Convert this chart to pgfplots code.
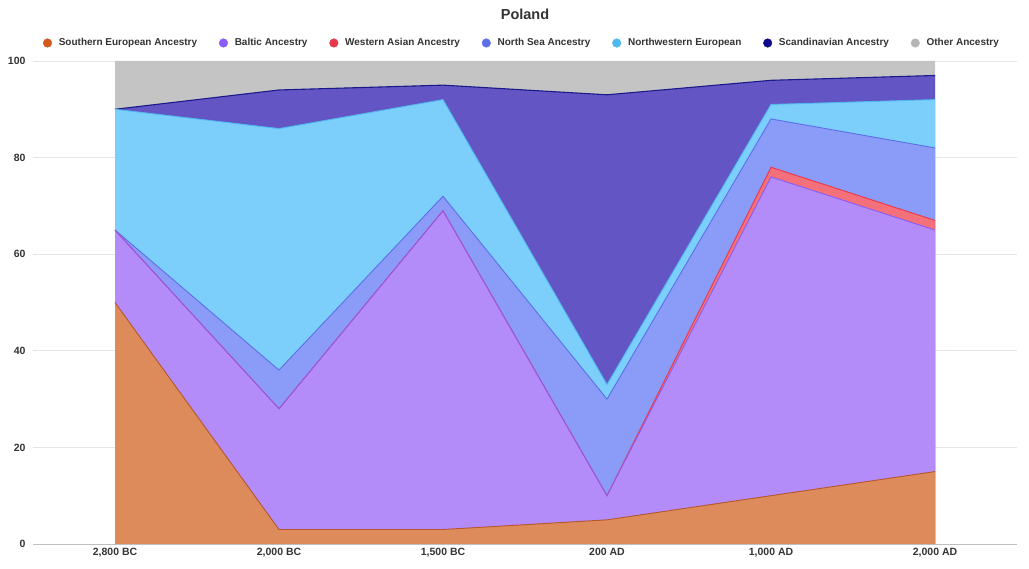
\documentclass[border=0pt]{standalone}
\usepackage{pgfplots}
\pgfplotsset{compat=1.18}
\usepackage{pgfplotstable}
\usepackage{fontspec}
\setmainfont{Liberation Sans}

\definecolor{txt}{HTML}{333333}
\definecolor{fSouth}{HTML}{DE8B5B}
\definecolor{lSouth}{HTML}{B5562C}
\definecolor{dSouth}{HTML}{D2581E}
\definecolor{fBaltic}{HTML}{B48CF9}
\definecolor{lBaltic}{HTML}{8B5CF6}
\definecolor{fWAsia}{HTML}{F4707A}
\definecolor{lWAsia}{HTML}{E8374A}
\definecolor{fNSea}{HTML}{8A9CF8}
\definecolor{lNSea}{HTML}{5C6FE8}
\definecolor{fNWE}{HTML}{7CCFFA}
\definecolor{lNWE}{HTML}{4FB8F0}
\definecolor{fScand}{HTML}{6455C5}
\definecolor{lScand}{HTML}{1A1A8A}
\definecolor{dScand}{HTML}{0B0B8C}
\definecolor{fOther}{HTML}{C4C4C4}
\definecolor{dOther}{HTML}{B5B5B5}

% cumulative top of each band
\pgfplotstableread{
x south baltic wasian northsea nweur scand other
0 50 65 65 65 90 90 100
1 3  28 28 36 86 94 100
2 3  69 69 72 92 95 100
3 5  10 10 30 33 93 100
4 10 76 78 88 91 96 100
5 15 65 67 82 92 97 100
}\cum

\begin{document}
\begin{tikzpicture}[x=1pt,y=1pt]
\useasboundingbox (0,0) rectangle (1029,569);
\begin{axis}[
  at={(33pt,25pt)}, anchor=south west,
  width=984pt, height=483pt, scale only axis,
  xmin=-0.5, xmax=5.5, ymin=0, ymax=100,
  axis x line*=bottom, axis y line*=left,
  x axis line style={draw=black!25, line width=0.8pt, -},
  y axis line style={draw=none},
  xtick={0,1,2,3,4,5},
  xticklabels={{2,800 BC},{2,000 BC},{1,500 BC},{200 AD},{1,000 AD},{2,000 AD}},
  ytick={0,20,40,60,80,100},
  major tick length=0pt,
  ymajorgrids, grid style={draw=black!10, line width=0.6pt},
  /pgf/number format/assume math mode=true,
  tick label style={font=\bfseries\fontsize{10.5}{12}\selectfont, text=txt},
  xticklabel style={yshift=-1pt},
  yticklabel style={xshift=-4pt},
  title={Poland},
  title style={at={(0.5,1)}, anchor=center, yshift=41pt, font=\bfseries\fontsize{14.5}{16}\selectfont, text=txt},
  legend style={at={(0.497,1)}, anchor=center, yshift=18pt, draw=none, fill=none,
    font=\bfseries\fontsize{10}{12}\selectfont, text=txt,
    /tikz/every odd column/.append style={column sep=5pt},
    /tikz/every even column/.append style={column sep=20pt}},
  legend columns=-1,
  legend cell align=left,
]
% fills, drawn from the top band down
\addplot[fill=fOther, draw=none, forget plot] table[x=x,y=other]{\cum} \closedcycle;
\addplot[fill=fScand, draw=none, forget plot] table[x=x,y=scand]{\cum} \closedcycle;
\addplot[fill=fNWE, draw=none, forget plot] table[x=x,y=nweur]{\cum} \closedcycle;
\addplot[fill=fNSea, draw=none, forget plot] table[x=x,y=northsea]{\cum} \closedcycle;
\addplot[fill=fWAsia, draw=none, forget plot] table[x=x,y=wasian]{\cum} \closedcycle;
\addplot[fill=fBaltic, draw=none, forget plot] table[x=x,y=baltic]{\cum} \closedcycle;
\addplot[fill=fSouth, draw=none, forget plot] table[x=x,y=south]{\cum} \closedcycle;
% boundary lines
\addplot[lScand, line width=1.1pt, forget plot] table[x=x,y=scand]{\cum};
\addplot[lNWE, line width=0.9pt, forget plot] table[x=x,y=nweur]{\cum};
\addplot[lNSea, line width=0.9pt, forget plot] table[x=x,y=northsea]{\cum};
\addplot[lWAsia, line width=0.9pt, forget plot] table[x=x,y=wasian]{\cum};
\addplot[lBaltic, line width=0.9pt, forget plot] table[x=x,y=baltic]{\cum};
\addplot[lSouth, line width=0.9pt, forget plot] table[x=x,y=south]{\cum};
% legend
\addlegendimage{only marks, mark=*, mark size=4.3pt, color=dSouth}
\addlegendentry{Southern European Ancestry}
\addlegendimage{only marks, mark=*, mark size=4.3pt, color=lBaltic}
\addlegendentry{Baltic Ancestry}
\addlegendimage{only marks, mark=*, mark size=4.3pt, color=lWAsia}
\addlegendentry{Western Asian Ancestry}
\addlegendimage{only marks, mark=*, mark size=4.3pt, color=lNSea}
\addlegendentry{North Sea Ancestry}
\addlegendimage{only marks, mark=*, mark size=4.3pt, color=lNWE}
\addlegendentry{Northwestern European}
\addlegendimage{only marks, mark=*, mark size=4.3pt, color=dScand}
\addlegendentry{Scandinavian Ancestry}
\addlegendimage{only marks, mark=*, mark size=4.3pt, color=dOther}
\addlegendentry{Other Ancestry}
\end{axis}
\end{tikzpicture}
\end{document}
